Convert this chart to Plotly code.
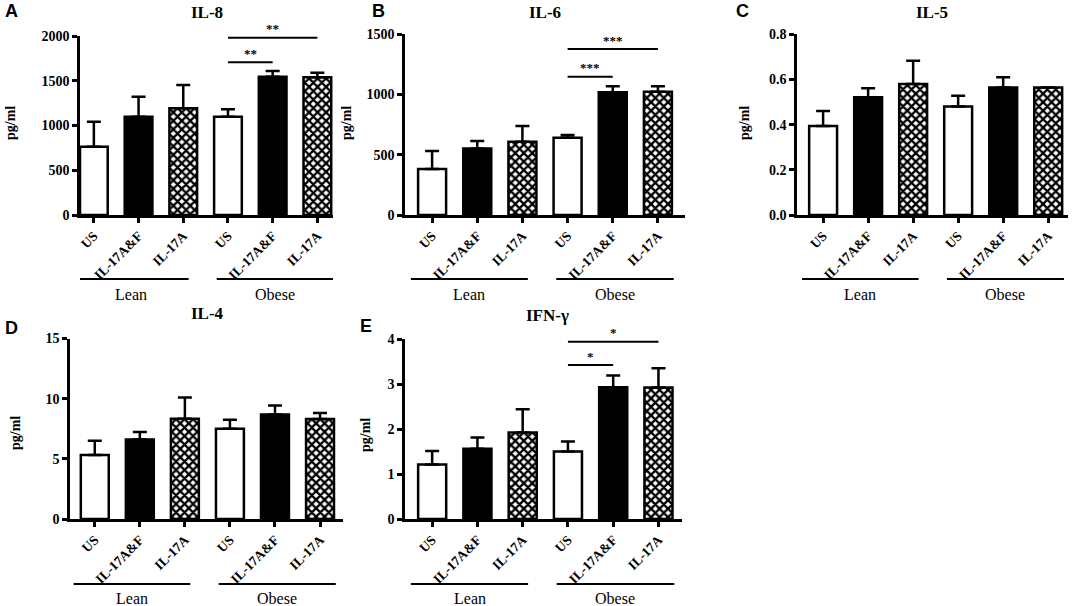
import plotly.graph_objects as go

# categories shared by every panel
groups = ["US", "IL-17A&F", "IL-17A", "US", "IL-17A&F", "IL-17A"]
group_names = ["Lean", "Obese"]

# mean and SEM
il8_mean = [763, 1098, 1192, 1098, 1545, 1538]
il8_sem = [280, 224, 261, 83, 64, 52]
il6_mean = [382, 553, 609, 642, 1018, 1024]
il6_sem = [149, 61, 130, 22, 50, 44]
il5_mean = [0.394, 0.521, 0.580, 0.480, 0.564, 0.565]
il5_sem = [0.066, 0.040, 0.103, 0.048, 0.046, 0.0]
il4_mean = [5.31, 6.61, 8.33, 7.50, 8.69, 8.30]
il4_sem = [1.19, 0.61, 1.77, 0.75, 0.75, 0.50]
ifng_mean = [1.21, 1.56, 1.92, 1.50, 2.93, 2.92]
ifng_sem = [0.30, 0.25, 0.52, 0.22, 0.26, 0.43]

# significance: (from bar, to bar, height, stars)
il8_sig = [(3, 4, 1706, "**"), (3, 5, 1981, "**")]
il6_sig = [(3, 4, 1148, "***"), (3, 5, 1378, "***")]
ifng_sig = [(3, 4, 3.42, "*"), (3, 5, 3.94, "*")]

W, H = 1074, 606
SERIF = "Liberation Serif"


def px_x(v):
    return v / W


def px_y(v):
    return 1 - v / H


# panel setup: letter, title, data, ticks, pixel boxes
panels = [
    dict(letter="A", title="IL-8", mean=il8_mean, sem=il8_sem, sig=il8_sig,
         ymax=2000, dtick=500, fmt="d", box=(80, 333, 36, 215), xr=(-0.31, 5.35),
         letter_xy=(11, 11), title_xy=(207, 13), ylab_xy=(11, 123), grp_y=(279, 294)),
    dict(letter="B", title="IL-6", mean=il6_mean, sem=il6_sem, sig=il6_sig,
         ymax=1500, dtick=500, fmt="d", box=(405, 685, 34.3, 215), xr=(-0.6, 5.6),
         letter_xy=(378, 11), title_xy=(545, 13), ylab_xy=(347, 123), grp_y=(279, 294)),
    dict(letter="C", title="IL-5", mean=il5_mean, sem=il5_sem, sig=[],
         ymax=0.8, dtick=0.2, fmt=".1f", box=(797, 1068, 34.3, 215), xr=(-0.58, 5.44),
         letter_xy=(742, 11), title_xy=(932, 13), ylab_xy=(745, 123), grp_y=(279, 294)),
    dict(letter="D", title="IL-4", mean=il4_mean, sem=il4_sem, sig=[],
         ymax=15, dtick=5, fmt="d", box=(70, 343, 338.5, 519), xr=(-0.55, 5.51),
         letter_xy=(11, 328), title_xy=(207, 313), ylab_xy=(15, 433), grp_y=(584, 598)),
    dict(letter="E", title="IFN-γ", mean=ifng_mean, sem=ifng_sem, sig=ifng_sig,
         ymax=4, dtick=1, fmt="d", box=(405, 682, 339, 519), xr=(-0.6, 5.52),
         letter_xy=(366, 326), title_xy=(547, 315), ylab_xy=(365, 435), grp_y=(584, 598)),
]

# bar styles: US open, IL-17A&F solid, IL-17A cross-hatched
styles = ["open", "solid", "hatch", "open", "solid", "hatch"]

fig = go.Figure()
shapes = []
annotations = []


def note(text, x, y, xref="paper", yref="paper", **kw):
    d = dict(text=text, x=x, y=y, xref=xref, yref=yref, showarrow=False,
             xanchor="center", yanchor="middle")
    d.update(kw)
    annotations.append(d)


for k, p in enumerate(panels):
    n = "" if k == 0 else str(k + 1)
    xa, ya = "x" + n, "y" + n
    for st in ["open", "solid", "hatch"]:
        idx = [i for i, s in enumerate(styles) if s == st]
        if st == "hatch":
            marker = dict(color="white", line=dict(color="black", width=2.5),
                          pattern=dict(shape="x", fgcolor="black", bgcolor="white",
                                       size=6, solidity=0.62))
        else:
            marker = dict(color="white" if st == "open" else "black",
                          line=dict(color="black", width=2.5))
        fig.add_trace(go.Bar(
            x=idx, y=[p["mean"][i] for i in idx], width=0.62,
            xaxis=xa, yaxis=ya, showlegend=False, marker=marker, hoverinfo="skip",
            error_y=dict(type="data", array=[p["sem"][i] for i in idx],
                         arrayminus=[0] * len(idx), symmetric=False,
                         color="black", thickness=2.5, width=7),
        ))
    x0, x1, y0, y1 = p["box"]
    fig.layout["xaxis" + n] = dict(
        domain=[px_x(x0), px_x(x1)], range=list(p["xr"]), anchor=ya,
        tickvals=list(range(len(groups))), ticktext=groups, tickangle=-45,
        tickfont=dict(family=SERIF, size=13.5, color="black", weight="bold"),
        showline=True, linecolor="black", linewidth=2.5, ticks="outside",
        ticklen=5, tickwidth=2.5, tickcolor="black", showgrid=False, zeroline=False,
        automargin=False, fixedrange=True)
    fig.layout["yaxis" + n] = dict(
        domain=[px_y(y1), px_y(y0)], range=[0, p["ymax"]], anchor=xa,
        dtick=p["dtick"], tick0=0, tickformat=p["fmt"],
        tickfont=dict(family=SERIF, size=14, color="black", weight="bold"),
        showline=True, linecolor="black", linewidth=2.5, ticks="outside",
        ticklen=5, tickwidth=2.5, tickcolor="black", showgrid=False, zeroline=False,
        automargin=False, fixedrange=True)

    # panel letter, title, y label
    lx, ly = p["letter_xy"]
    note(p["letter"], px_x(lx), px_y(ly),
         font=dict(family="Liberation Sans", size=18, color="black", weight="bold"))
    tx, ty = p["title_xy"]
    note(p["title"], px_x(tx), px_y(ty),
         font=dict(family=SERIF, size=17, color="black", weight="bold"))
    yx, yy = p["ylab_xy"]
    note("pg/ml", px_x(yx), px_y(yy), textangle=-90,
         font=dict(family=SERIF, size=14, color="black", weight="bold"))

    # group brackets under the tick labels
    gl, gt = p["grp_y"]
    for name, (a, b) in zip(group_names, [(-0.47, 2.12), (2.75, 5.35)]):
        shapes.append(dict(type="line", xref=xa, yref="paper", x0=a, x1=b,
                           y0=px_y(gl), y1=px_y(gl), line=dict(color="black", width=2)))
        note(name, (a + b) / 2, px_y(gt), xref=xa,
             font=dict(family=SERIF, size=16, color="black"))

    # significance bars
    for i, j, h, stars in p["sig"]:
        shapes.append(dict(type="line", xref=xa, yref=ya, x0=i, x1=j, y0=h, y1=h,
                           line=dict(color="black", width=2)))
        note(stars, (i + j) / 2, h, xref=xa, yref=ya, yshift=9,
             font=dict(family=SERIF, size=13, color="black", weight="bold"))

fig.update_layout(
    template="none",
    width=W, height=H, margin=dict(l=0, r=0, t=0, b=0, autoexpand=False),
    paper_bgcolor="white", plot_bgcolor="white",
    shapes=shapes, annotations=annotations, barmode="overlay",
)

# drop the browser's default page margin so the figure sits at the window corner
fig.write_html("out.html", config={"displayModeBar": False},
               post_script="document.body.style.margin='0';")
